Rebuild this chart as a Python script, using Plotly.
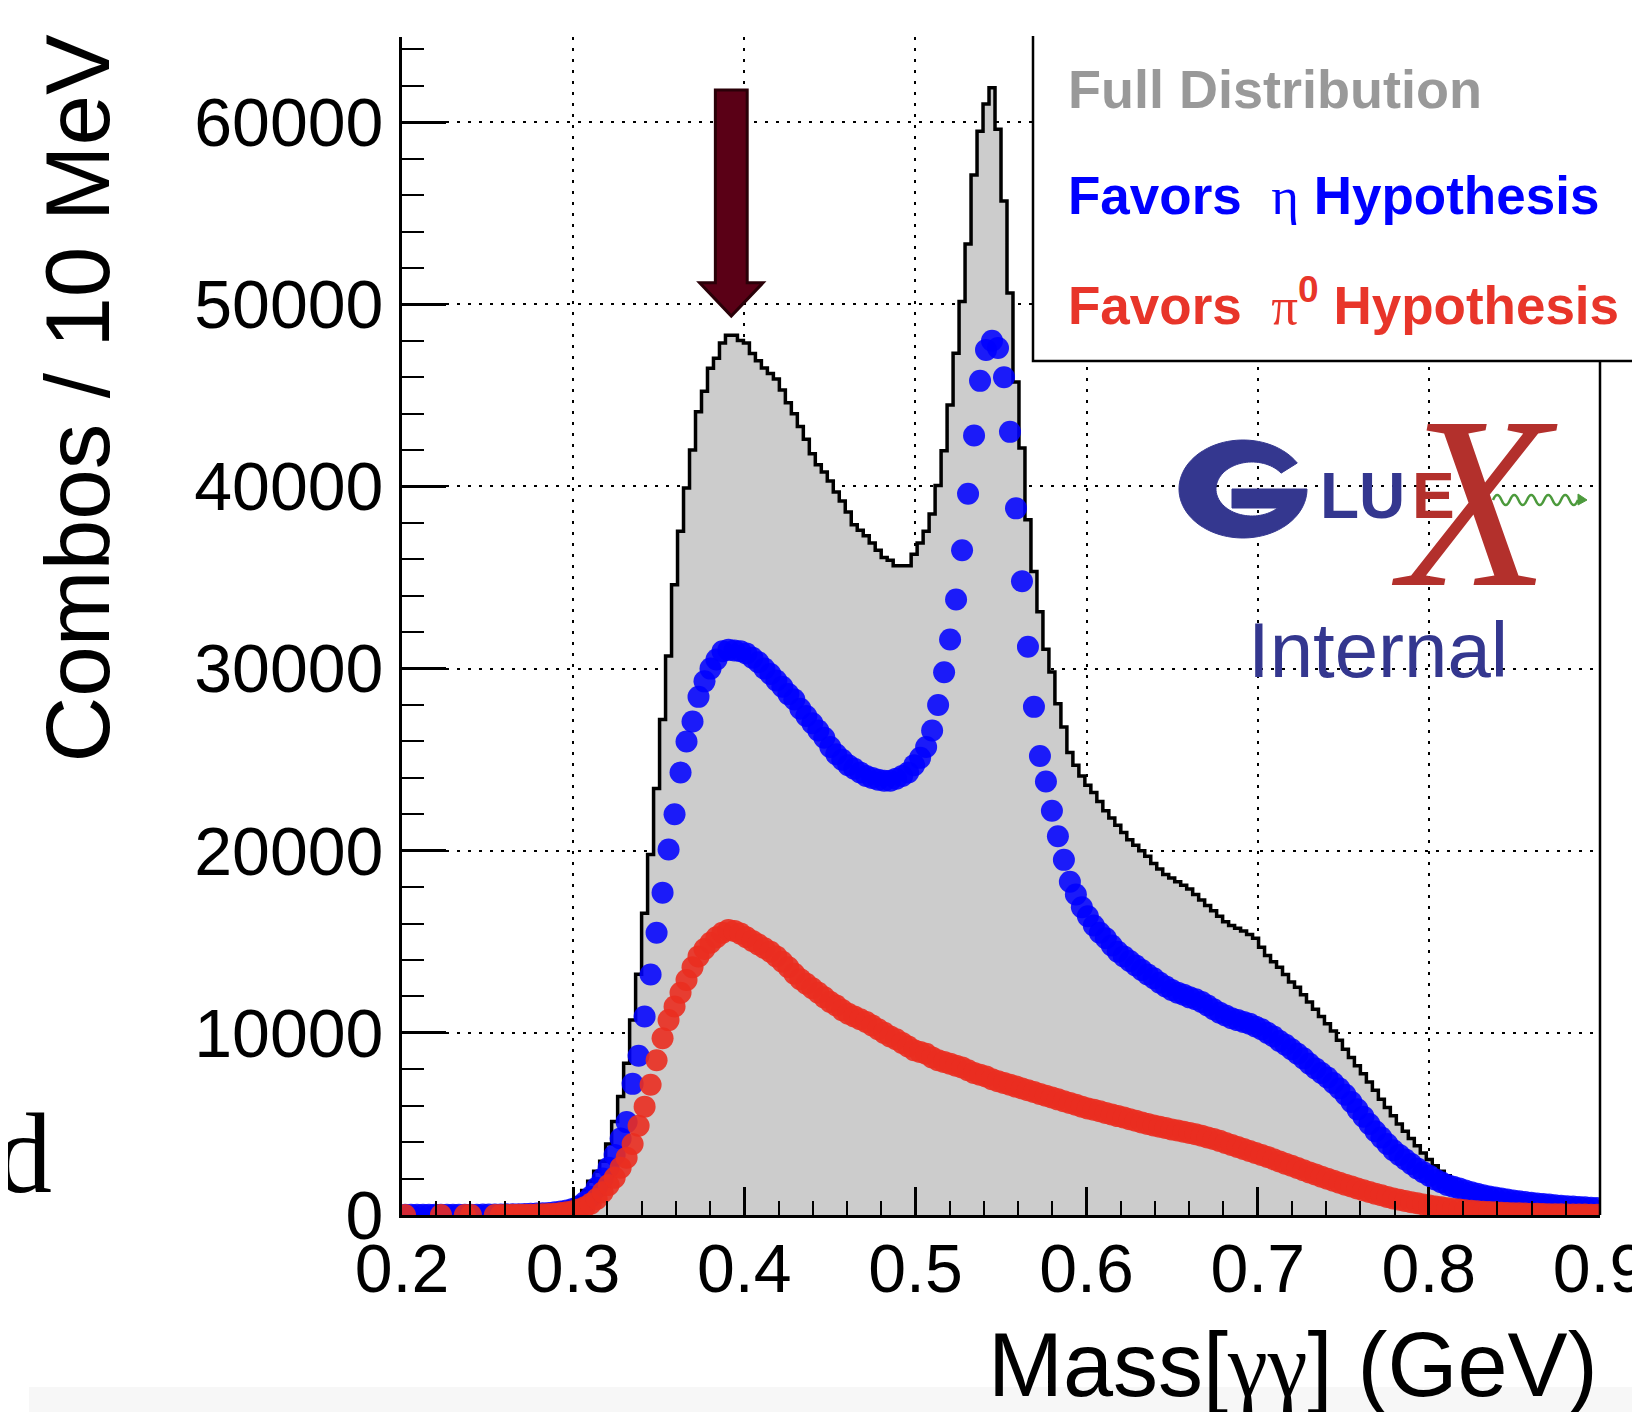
import math
import plotly.graph_objects as go

# ---------------- data ----------------
bin_low = 0.2
bin_width = 0.0035
n_bins = 200

full_counts = [
    0, 0, 0, 0, 0, 0, 0, 0, 0, 0,
    0, 5, 5, 10, 10, 15, 20, 25, 35, 45,
    60, 80, 105, 140, 185, 240, 310, 430, 650, 950,
    1350, 1850, 2400, 2950, 3900, 5130, 6510, 8330, 10700, 13220,
    16570, 19790, 23420, 27200, 30690, 34600, 37540, 39920, 42010, 44110,
    45230, 46490, 47040, 47880, 48300, 48300, 48020, 47880, 47300, 46900,
    46500, 46200, 45900, 45300, 44600, 44000, 43300, 42600, 41800, 41200,
    40800, 40300, 39700, 39200, 38600, 37900, 37600, 37300, 36900, 36500,
    36100, 35950, 35650, 35650, 35650, 36280, 36900, 37540, 38490, 40060,
    41960, 44480, 47320, 50160, 53310, 57100, 59500, 61000, 61900, 59620,
    55680, 50630, 45740, 42110, 38170, 35330, 33120, 31070, 29810, 28070,
    26800, 25400, 24700, 24100, 23600, 23200, 22700, 22200, 21800, 21400,
    21000, 20600, 20300, 20000, 19700, 19300, 19000, 18700, 18500, 18300,
    18100, 17900, 17600, 17300, 17000, 16700, 16400, 16100, 15900, 15750,
    15600, 15400, 15200, 14700, 14250, 13900, 13600, 13200, 12800, 12500,
    12100, 11700, 11300, 10900, 10500, 10100, 9600, 9100, 8650, 8200,
    7750, 7300, 6850, 6350, 5900, 5450, 5000, 4600, 4200, 3800,
    3400, 3050, 2700, 2400, 2150, 1950, 1750, 1600, 1450, 1320,
    1200, 1100, 1020, 950, 880, 820, 770, 720, 680, 640,
    610, 580, 550, 520, 500, 480, 460, 440, 420, 400,
]

eta_counts = [
    10, 10, 10, 10, 10, 10, 12, 12, 14, 15,
    16, 18, 20, 22, 25, 28, 32, 36, 42, 48,
    56, 65, 78, 95, 115, 145, 190, 250, 330, 480,
    700, 1000, 1500, 2000, 2600, 3300, 4200, 5100, 7200, 8740,
    10900, 13200, 15500, 17700, 20070, 22000, 24300, 26000, 27100, 28450,
    29300, 30000, 30500, 30950, 31030, 31000, 30950, 30830, 30600, 30350,
    30000, 29700, 29350, 29000, 28600, 28300, 27800, 27400, 27000, 26600,
    26200, 25700, 25300, 25000, 24700, 24500, 24300, 24100, 24000, 23900,
    23850, 23850, 23950, 24100, 24300, 24700, 25100, 25700, 26600, 28000,
    29800, 31600, 33800, 36500, 39600, 42800, 45800, 47500, 48000, 47600,
    46000, 43000, 38800, 34800, 31200, 27900, 25200, 23800, 22200, 20800,
    19500, 18300, 17600, 16900, 16400, 15900, 15500, 15200, 14800, 14450,
    14200, 13950, 13700, 13450, 13200, 13000, 12750, 12550, 12350, 12200,
    12100, 11950, 11850, 11700, 11500, 11300, 11100, 10950, 10800, 10700,
    10600, 10500, 10350, 10200, 10000, 9800, 9550, 9350, 9100, 8850,
    8600, 8300, 8050, 7800, 7550, 7250, 6950, 6600, 6200, 5800,
    5400, 5000, 4600, 4250, 3900, 3550, 3300, 3050, 2800, 2550,
    2350, 2150, 1950, 1800, 1650, 1550, 1450, 1350, 1250, 1170,
    1090, 1020, 960, 900, 850, 800, 750, 710, 670, 630,
    600, 570, 540, 510, 480, 460, 440, 420, 400, 380,
]

pi0_counts = [
    0, None, None, None, None, None, 0, None, None, None,
    0, 0, None, None, None, 2, 3, 5, 7, 10,
    14, 20, 28, 40, 55, 75, 105, 150, 210, 300,
    430, 620, 880, 1250, 1650, 2050, 2600, 3150, 3900, 4900,
    5950, 7150, 8500, 9700, 10700, 11450, 12200, 12900, 13600, 14200,
    14600, 14950, 15250, 15500, 15650, 15600, 15450, 15250, 15050, 14850,
    14650, 14450, 14200, 13900, 13600, 13250, 12950, 12700, 12450, 12200,
    11950, 11700, 11500, 11250, 11050, 10900, 10750, 10600, 10400, 10200,
    10000, 9800, 9650, 9450, 9250, 9050, 8950, 8850, 8650, 8500,
    8400, 8300, 8200, 8100, 7950, 7800, 7700, 7600, 7450, 7350,
    7250, 7150, 7050, 6950, 6850, 6750, 6650, 6550, 6450, 6350,
    6250, 6150, 6050, 5950, 5850, 5780, 5700, 5600, 5520, 5430,
    5350, 5260, 5170, 5080, 5000, 4920, 4850, 4780, 4700, 4640,
    4570, 4500, 4430, 4350, 4260, 4170, 4070, 3960, 3850, 3740,
    3630, 3520, 3410, 3300, 3180, 3060, 2940, 2820, 2700, 2580,
    2460, 2340, 2220, 2100, 1990, 1880, 1770, 1660, 1560, 1460,
    1360, 1260, 1170, 1080, 990, 910, 840, 770, 700, 640,
    580, 520, 470, 420, 375, 335, 300, 265, 235, 210,
    185, 165, 145, 130, 115, 100, 90, 80, 70, 62,
    55, 48, 42, 37, 33, 29, 26, 23, 20, 18,
]

x_ticks = [0.2, 0.3, 0.4, 0.5, 0.6, 0.7, 0.8, 0.9]
x_tick_text = ["0.2", "0.3", "0.4", "0.5", "0.6", "0.7", "0.8", "0.9"]
y_ticks = [0, 10000, 20000, 30000, 40000, 50000, 60000]
y_tick_text = ["0", "10000", "20000", "30000", "40000", "50000", "60000"]

# arrow marking the pi0-like peak (data coordinates)
arrow_x = 0.3924
arrow_top = 61770
arrow_head_base = 51180
arrow_tip = 49360
arrow_shaft_half = 0.0093
arrow_head_half = 0.0185

# ---------------- derived bin geometry ----------------
edges = [bin_low + bin_width * i for i in range(n_bins + 1)]
centers = [bin_low + bin_width * (i + 0.5) for i in range(n_bins)]

# ---------------- figure geometry ----------------
OFF = 8                      # page offset of the plot div (body margin)
W, H = 1640 - OFF, 1412 - OFF
L, R, T, B = 402 - OFF, 40, 37 - OFF, 197
PW, PH = W - L - R, H - T - B


def px(xp):
    """page pixel x -> paper x"""
    return (xp - OFF - L) / PW


def py(yp):
    """page pixel y -> paper y"""
    return (H - B - (yp - OFF)) / PH


SANS = "Liberation Sans"
SERIF = "Liberation Serif"

fig = go.Figure()

fig.add_trace(go.Scatter(
    x=edges, y=full_counts + [full_counts[-1]],
    mode="lines", line=dict(color="black", width=3.5, shape="hv"),
    fill="tozeroy", fillcolor="#cccccc", hoverinfo="skip", showlegend=False,
))
fig.add_trace(go.Scatter(
    x=centers, y=eta_counts, mode="markers",
    marker=dict(size=22, color="rgba(0,0,255,0.87)", line=dict(width=0)),
    showlegend=False,
))
fig.add_trace(go.Scatter(
    x=centers, y=pi0_counts, mode="markers",
    marker=dict(size=22, color="rgba(234,46,32,0.9)", line=dict(width=0)),
    showlegend=False,
))

grid_dash = "3px,8px"
fig.update_xaxes(
    range=[0.2, 0.9], tickvals=x_ticks, ticktext=x_tick_text,
    ticks="inside", ticklen=28, tickwidth=2.5, tickcolor="black",
    showline=True, linewidth=3, linecolor="black", mirror=False,
    showgrid=True, gridcolor="black", gridwidth=2, griddash=grid_dash,
    zeroline=False, ticklabeloverflow="allow", ticklabelstandoff=-8,
    tickfont=dict(family=SANS, size=68, color="black"),
    minor=dict(dtick=0.02, tick0=0.2, ticks="inside", ticklen=14,
               tickwidth=2, tickcolor="black", showgrid=False),
)
fig.update_yaxes(
    range=[0, 64680], tickvals=y_ticks, ticktext=y_tick_text,
    ticks="inside", ticklen=44, tickwidth=2.5, tickcolor="black",
    showline=True, linewidth=3, linecolor="black", mirror=False,
    showgrid=True, gridcolor="black", gridwidth=2, griddash=grid_dash,
    zeroline=False, ticklabelstandoff=2, ticklabeloverflow="allow",
    tickfont=dict(family=SANS, size=68, color="black"),
    minor=dict(dtick=2000, tick0=0, ticks="inside", ticklen=22,
               tickwidth=2, tickcolor="black", showgrid=False),
)

shapes = []
# faint band at the very bottom of the slide
shapes.append(dict(type="rect", xref="paper", yref="paper",
                   x0=px(29), x1=px(1650), y0=py(1387), y1=py(1420),
                   fillcolor="#f7f7f7", line=dict(width=0), layer="below"))
# legend box (white, open at top)
lx0, lx1, ly0, ly1 = px(1033), px(1634), py(361), py(36)
shapes.append(dict(type="rect", xref="paper", yref="paper",
                   x0=lx0, x1=lx1, y0=ly0, y1=ly1,
                   fillcolor="white", line=dict(width=0)))
shapes.append(dict(type="path", xref="paper", yref="paper",
                   path=f"M {lx0},{ly1} L {lx0},{ly0} L {lx1},{ly0} L {lx1},{ly1}",
                   line=dict(color="black", width=2.5)))
# right frame below the legend box
shapes.append(dict(type="line", xref="paper", yref="paper",
                   x0=1, x1=1, y0=0, y1=ly0, line=dict(color="black", width=2.5)))
# arrow
ax, sh, hh = arrow_x, arrow_shaft_half, arrow_head_half
arrow_path = (f"M {ax - sh},{arrow_top} L {ax + sh},{arrow_top} "
              f"L {ax + sh},{arrow_head_base} L {ax + hh},{arrow_head_base} "
              f"L {ax},{arrow_tip} L {ax - hh},{arrow_head_base} "
              f"L {ax - sh},{arrow_head_base} Z")
shapes.append(dict(type="path", xref="x", yref="y", path=arrow_path,
                   fillcolor="#5a0016", line=dict(color="#2a0008", width=3)))

# ---- GlueX logo (decorative drawing) ----
navy = "#34378f"
logo_red = "#b3302c"
# wide "G": elliptical ring open at upper right, with a bar
gcx, gcy, grx, gry = 1243, 489, 64, 49
icx, icy, irx, iry = 1252, 489, 36, 27
pts = []
for d in range(32, 361, 4):
    t = math.radians(d)
    pts.append((gcx + grx * math.cos(t), gcy - gry * math.sin(t)))
pts.append((gcx + grx, 489))
pts.append((1232, 489))
pts.append((1232, 508))
t_in = 360 - math.degrees(math.asin((508 - icy) / iry))
d = t_in
while d > 36:
    t = math.radians(d)
    pts.append((icx + irx * math.cos(t), icy - iry * math.sin(t)))
    d -= 4
t = math.radians(36)
pts.append((icx + irx * math.cos(t), icy - iry * math.sin(t)))
gpath = "M " + " L ".join(f"{px(a)},{py(b)}" for a, b in pts) + " Z"
shapes.append(dict(type="path", xref="paper", yref="paper", path=gpath,
                   fillcolor=navy, line=dict(color=navy, width=1)))
# wavy photon line
wx0, wx1, wy, amp, nw = 1493, 1578, 500, 5, 5
seg = (wx1 - wx0) / nw
p = f"M {px(wx0)},{py(wy)}"
for i in range(nw):
    xa = wx0 + i * seg
    p += (f" Q {px(xa + seg * 0.25)},{py(wy - 2 * amp)} {px(xa + seg * 0.5)},{py(wy)}"
          f" Q {px(xa + seg * 0.75)},{py(wy + 2 * amp)} {px(xa + seg)},{py(wy)}")
shapes.append(dict(type="path", xref="paper", yref="paper", path=p,
                   line=dict(color="#4c9a3c", width=2.5)))
shapes.append(dict(type="path", xref="paper", yref="paper",
                   path=f"M {px(1578)},{py(494)} L {px(1587)},{py(500)} L {px(1578)},{py(505)} Z",
                   fillcolor="#4c9a3c", line=dict(color="#4c9a3c", width=1)))
fig.update_layout(shapes=shapes)

ann = []
# axis titles
ann.append(dict(text="Combos / 10 MeV", xref="paper", yref="paper",
                x=px(77), y=py(31), xanchor="center", yanchor="top",
                textangle=-90, showarrow=False,
                font=dict(family=SANS, size=91, color="black")))
ann.append(dict(text=f"Mass[<span style='font-family:{SERIF}'>γγ</span>] (GeV)",
                xref="paper", yref="paper", x=1.0, y=py(1365),
                xanchor="right", yanchor="middle", showarrow=False,
                font=dict(family=SANS, size=90, color="black")))
# legend entries
ann.append(dict(text="<b>Full Distribution</b>", xref="paper", yref="paper",
                x=px(1066), y=py(89), xanchor="left", yanchor="middle",
                showarrow=False, font=dict(family=SANS, size=54, color="#999999")))
ann.append(dict(text=f"<b>Favors</b>&nbsp;&nbsp;<span style='font-family:{SERIF}'>η</span> <b>Hypothesis</b>",
                xref="paper", yref="paper",
                x=px(1066), y=py(195), xanchor="left", yanchor="middle",
                showarrow=False, font=dict(family=SANS, size=53, color="#0000ff")))
ann.append(dict(text=f"<b>Favors</b>&nbsp;&nbsp;<span style='font-family:{SERIF}'>π</span><b><sup>0</sup></b> <b>Hypothesis</b>",
                xref="paper", yref="paper",
                x=px(1066), y=py(302), xanchor="left", yanchor="middle",
                showarrow=False, font=dict(family=SANS, size=53, color="#e8352a")))
# logo letters
ann.append(dict(text="<b>LU</b>", xref="paper", yref="paper", x=px(1318), y=py(496),
                xanchor="left", yanchor="middle", showarrow=False,
                font=dict(family=SANS, size=64, color=navy)))
ann.append(dict(text="<b>E</b>", xref="paper", yref="paper", x=px(1410), y=py(496),
                xanchor="left", yanchor="middle", showarrow=False,
                font=dict(family=SANS, size=64, color=logo_red)))
ann.append(dict(text="<i>X</i>", xref="paper", yref="paper", x=px(1474), y=py(503),
                xanchor="center", yanchor="middle", showarrow=False,
                font=dict(family=SERIF, size=245, color=logo_red)))
ann.append(dict(text="Internal", xref="paper", yref="paper", x=px(1246), y=py(650),
                xanchor="left", yanchor="middle", showarrow=False,
                font=dict(family=SANS, size=78, color=navy)))
# stray slide letter at the left edge
ann.append(dict(text="d", xref="paper", yref="paper", x=px(54), y=py(1153),
                xanchor="right", yanchor="middle", showarrow=False,
                font=dict(family=SERIF, size=114, color="black")))
fig.update_layout(annotations=ann)

fig.update_layout(
    width=W, height=H,
    margin=dict(l=L, r=R, t=T, b=B, autoexpand=False),
    plot_bgcolor="white", paper_bgcolor="white",
    showlegend=False,
)

fig.write_html("out.html")
